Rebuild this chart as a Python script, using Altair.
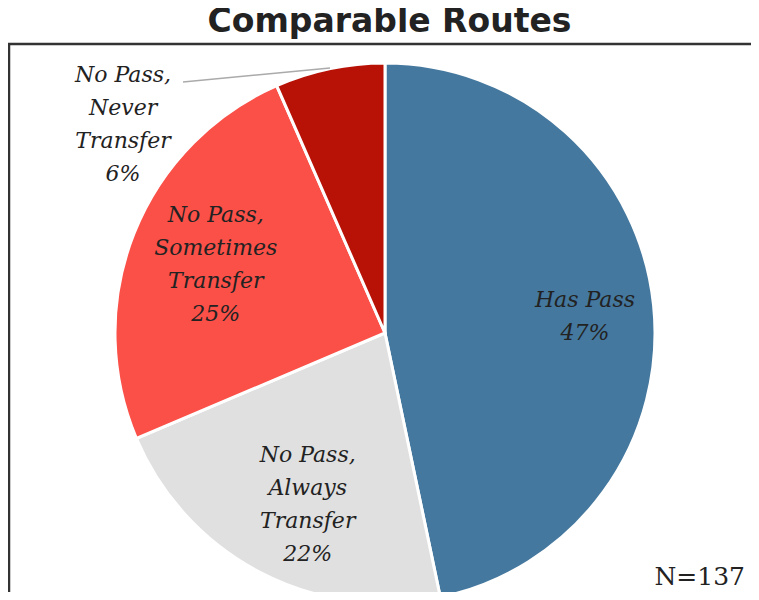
import altair as alt
import pandas as pd

categories = ["Has Pass", "No Pass, Always Transfer", "No Pass, Sometimes Transfer", "No Pass, Never Transfer"]
labels = ["Has Pass\n47%", "No Pass,\nAlways\nTransfer\n22%", "No Pass,\nSometimes\nTransfer\n25%", "No Pass,\nNever\nTransfer\n6%"]
counts = [64, 30, 34, 9]
colors = ["#45789e", "#e0e0e0", "#fa5048", "#b81106"]

df = pd.DataFrame({"cat": categories, "label": labels, "n": counts, "idx": list(range(len(categories)))})

W, H = 743, 548
CX, CY = 377, 289

base = alt.Chart(df).encode(
    theta=alt.Theta("n:Q", stack=True),
    order=alt.Order("idx:Q"),
    x=alt.value(CX),
    y=alt.value(CY),
)

arcs = base.mark_arc(radius=270, stroke="white", strokeWidth=3).encode(
    color=alt.Color("cat:N", scale=alt.Scale(domain=categories, range=colors), legend=None)
)

offsets = [(6, -13), (13, -51), (12, -46), (-222, -67)]
text_layers = []
for i, (ddx, ddy) in enumerate(offsets):
    text_layers.append(
        base.mark_text(radius=195, dx=ddx, dy=ddy, font="DejaVu Serif", fontStyle="italic", fontSize=22,
                       lineBreak="\n", lineHeight=33, color="#222222", align="center",
                       baseline="middle").encode(
            text=alt.condition(alt.datum.idx == i, "label:N", alt.value(""))
        )
    )

leader = alt.Chart(df).transform_filter(alt.datum.idx == 3).mark_rule(color="#aaaaaa", strokeWidth=1.5).encode(
    x=alt.value(175), y=alt.value(38), x2=alt.value(322), y2=alt.value(24))

hline = alt.Chart(df).transform_filter(alt.datum.idx == 0).mark_rule(color="#333333", strokeWidth=2.5).encode(
    x=alt.value(-10), x2=alt.value(W + 10), y=alt.value(0))
vline = alt.Chart(df).transform_filter(alt.datum.idx == 0).mark_rule(color="#333333", strokeWidth=2.5).encode(
    x=alt.value(1), y=alt.value(0), y2=alt.value(H + 10))

ntext = alt.Chart(df).transform_filter(alt.datum.idx == 0).mark_text(
    text="N=137", font="DejaVu Serif", fontSize=25, color="#222222", align="right", baseline="alphabetic"
).encode(x=alt.value(737), y=alt.value(541))

chart = alt.layer(arcs, *text_layers, leader, hline, vline, ntext).properties(
    width=W, height=H,
    autosize="none",
    padding={"left": 0, "top": 36, "right": 0, "bottom": 0},
    title=alt.Title("Comparable Routes", font="DejaVu Sans", fontSize=33, fontWeight=700,
                    color="#222222", anchor="middle", dx=10, offset=4),
).configure_view(stroke=None)

chart.save("out.html", embed_options={"renderer": "svg", "actions": False})
